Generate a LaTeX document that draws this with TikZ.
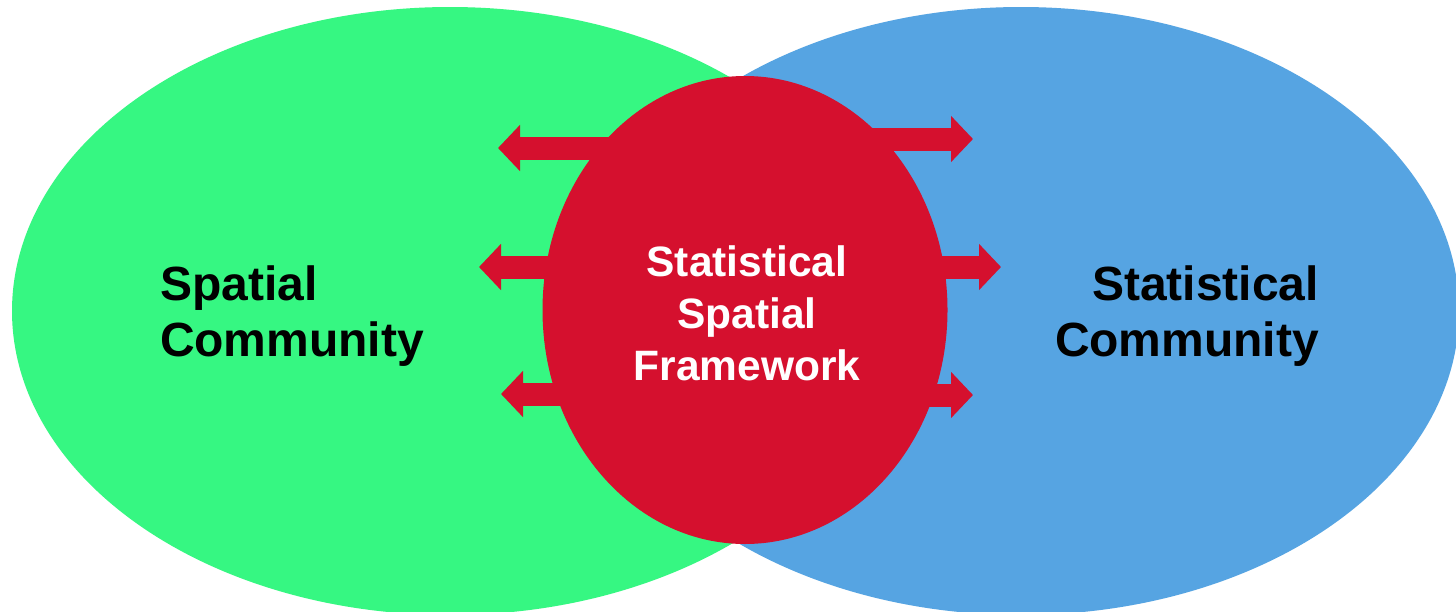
\documentclass[tikz,border=0pt]{standalone}
\usepackage{fontspec}
\setmainfont{Liberation Sans}
\usetikzlibrary{shapes.geometric,arrows.meta}

\definecolor{spatialgreen}{RGB}{54,247,130}
\definecolor{statblue}{RGB}{86,164,226}
\definecolor{hubred}{RGB}{213,16,46}

\begin{document}
\begin{tikzpicture}[
    x=1pt, y=-1pt,
    community/.style={ellipse, draw=none, inner sep=0pt, outer sep=0pt, minimum width=876pt, minimum height=608pt},
    hub/.style={ellipse, draw=none, fill=hubred, inner sep=0pt, outer sep=0pt, minimum width=405pt, minimum height=468pt},
    commtext/.style={font=\fontsize{48}{56}\selectfont\bfseries, text=black, inner sep=0pt},
    hubtext/.style={font=\fontsize{42.5}{52}\selectfont\bfseries, text=white, align=center, inner sep=0pt},
    blockarrow/.style={-{Triangle[width=45pt,length=22pt]}, line width=23pt, draw=hubred}
]
\clip (0,0) rectangle (1456,611);
\fill[white] (0,0) rectangle (1456,611);

% the two communities
\node[community, fill=spatialgreen] (spatial) at (450,311) {};
\node[community, fill=statblue] (statistical) at (1021,311) {};

% framework in the middle
\node[hub] (frame) at (745,310) {};

% arrow tips
\coordinate (outL1) at (498,148);
\coordinate (outL2) at (479,267);
\coordinate (outL3) at (501,394);
\coordinate (outR1) at (973,139);
\coordinate (outR2) at (1001,267);
\coordinate (outR3) at (973,395);

\foreach \tip in {outL1,outL2,outL3,outR1,outR2,outR3}
    \draw[blockarrow] (frame.center |- \tip) -- (\tip);

% labels
\node[hubtext] (framelabel) at ([shift={(2,3)}]frame.center) {Statistical\\Spatial\\Framework};
\node[commtext, align=left] (spatiallabel) at (292,316) {Spatial\\Community};
\node[commtext, align=right] (statlabel) at (1187,316) {Statistical\\Community};

\end{tikzpicture}
\end{document}
